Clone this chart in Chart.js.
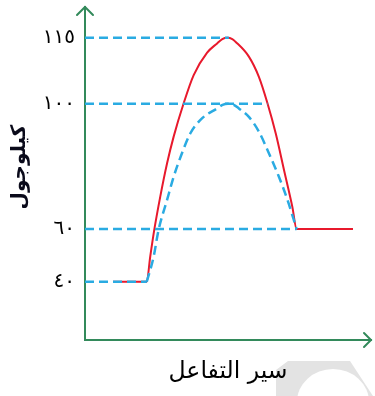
<!DOCTYPE html>
<html>
<head>
<meta charset="utf-8">
<script src="https://cdn.jsdelivr.net/npm/chart.js@4"></script>
<style>
  html, body { margin: 0; padding: 0; background: #fff; }
  #wrap { width: 375px; height: 396px; position: relative; }
</style>
</head>
<body>
<div id="wrap"><canvas id="chart"></canvas></div>
<script>
// reaction progress (0-100, arbitrary) vs energy in kJ
const withoutCatalystX = [9.8, 21.6, 22.8, 24.2, 26.3, 28.7, 31.0, 34.5, 38.0, 42.7, 46.2, 48.0, 49.8, 51.5, 52.6, 57.3, 60.8, 63.8, 66.7, 69.6, 72.5, 74.0, 93.7];
const withoutCatalystY = [40, 40, 49.5, 59.6, 70.3, 81.0, 89.5, 100.1, 106.5, 111.6, 113.7, 114.7, 115, 114.7, 114.1, 110.7, 106.1, 100.1, 90.5, 78.8, 67.1, 60, 60];

const withCatalystX = [21.6, 24.0, 25.7, 28.7, 31.0, 33.9, 36.8, 40.9, 46.2, 48.1, 50.0, 52.0, 53.8, 57.3, 60.8, 64.3, 67.8, 70.8, 74.0];
const withCatalystY = [40, 49.5, 59.6, 69.3, 76.7, 84.2, 90.5, 95.3, 98.5, 99.65, 100, 99.65, 98.5, 95.8, 91.1, 84.2, 76.7, 69.3, 60];

// dashed guide lines from the y axis to the curves
const guideLevels = [40, 60, 100, 115];
const guideEnds = [21.6, 74.0, 63.8, 50.3];

const yTicks = [40, 60, 100, 115];
const yTickLabels = ['٤٠', '٦٠', '١٠٠', '١١٥'];

const xTitle = 'سير التفاعل';
const yTitle = 'كيلوجول';

// the drawing is schematic: the energy axis is not evenly spaced
const yKnotValues = [20, 40, 60, 100, 115, 122];
const yKnotFracs = [0, 0.175, 0.333, 0.7096, 0.9078, 1];

function piece(v, from, to) {
    if (v <= from[0]) return to[0];
    for (let i = 1; i < from.length; i++) {
        if (v <= from[i]) {
            const t = (v - from[i - 1]) / (from[i] - from[i - 1]);
            return to[i - 1] + t * (to[i] - to[i - 1]);
        }
    }
    return to[to.length - 1];
}

class PiecewiseScale extends Chart.LinearScale {
    getPixelForValue(value) {
        return this.getPixelForDecimal(piece(value, yKnotValues, yKnotFracs));
    }
    getValueForPixel(pixel) {
        return piece(this.getDecimalForPixel(pixel), yKnotFracs, yKnotValues);
    }
}
PiecewiseScale.id = 'piecewise';
PiecewiseScale.defaults = Chart.LinearScale.defaults;
Chart.register(PiecewiseScale);

const GREEN = '#338a5b';
const BLUE = '#2aabe2';
const RED = '#e8192c';

const toPoints = (xs, ys) => xs.map((x, i) => ({ x: x, y: ys[i] }));

const guideSets = guideLevels.map((lvl, i) => ({
    data: [{ x: 0, y: lvl }, { x: guideEnds[i], y: lvl }],
    borderColor: BLUE,
    borderWidth: 2.5,
    borderDash: [9, 5],
    pointRadius: 0,
    order: 1
}));

const decor = {
    id: 'decor',
    beforeDraw(chart) {
        const ctx = chart.ctx;
        ctx.save();
        ctx.fillStyle = '#e3e3e3';
        ctx.beginPath();
        ctx.moveTo(276, 370);
        ctx.lineTo(288, 361);
        ctx.lineTo(350, 361);
        ctx.lineTo(373, 396);
        ctx.lineTo(276, 396);
        ctx.closePath();
        ctx.fill();
        ctx.fillStyle = '#fff';
        ctx.beginPath();
        ctx.ellipse(333, 402, 36, 33, 0, 0, Math.PI * 2);
        ctx.fill();
        ctx.restore();
    },
    afterDraw(chart) {
        const { left, right, top, bottom } = chart.chartArea;
        const ctx = chart.ctx;
        ctx.save();
        ctx.strokeStyle = GREEN;
        ctx.lineWidth = 2;
        ctx.lineCap = 'round';
        ctx.beginPath();
        ctx.moveTo(left - 8, top + 8);
        ctx.lineTo(left, top);
        ctx.lineTo(left + 8, top + 8);
        ctx.moveTo(right - 7, bottom - 7);
        ctx.lineTo(right, bottom);
        ctx.lineTo(right - 7, bottom + 7);
        ctx.stroke();

        // y axis title, a little above the middle as in the source
        ctx.translate(19.5, 167);
        ctx.rotate(-Math.PI / 2);
        ctx.fillStyle = '#0a0a1a';
        ctx.font = 'bold 20px "DejaVu Sans"';
        ctx.textAlign = 'center';
        ctx.textBaseline = 'middle';
        ctx.fillText(yTitle, 0, 0);
        ctx.restore();
    }
};

new Chart(document.getElementById('chart'), {
    type: 'line',
    data: {
        datasets: [
            {
                data: toPoints(withoutCatalystX, withoutCatalystY),
                borderColor: RED,
                borderWidth: 2,
                pointRadius: 0,
                cubicInterpolationMode: 'monotone',
                order: 2
            },
            {
                data: toPoints(withCatalystX, withCatalystY),
                borderColor: BLUE,
                borderWidth: 2.5,
                borderDash: [9, 5],
                pointRadius: 0,
                cubicInterpolationMode: 'monotone',
                order: 1
            },
            ...guideSets
        ]
    },
    options: {
        responsive: true,
        maintainAspectRatio: false,
        animation: false,
        layout: { padding: { top: 7, right: 4, left: 0, bottom: 0 } },
        plugins: {
            legend: { display: false },
            tooltip: { enabled: false }
        },
        scales: {
            x: {
                type: 'linear',
                min: 0,
                max: 100,
                grid: { display: false, drawTicks: false },
                border: { display: true, color: GREEN, width: 2 },
                ticks: { display: false },
                title: {
                    display: true,
                    text: xTitle,
                    color: '#000',
                    font: { family: 'DejaVu Sans', size: 23.5 },
                    padding: { top: 0, bottom: 10 }
                },
                afterFit: (scale) => {
                    scale.height = 56;
                    scale.paddingLeft = 0;
                    scale.paddingRight = 0;
                }
            },
            y: {
                type: 'piecewise',
                min: yKnotValues[0],
                max: yKnotValues[yKnotValues.length - 1],
                grid: { display: false, drawTicks: false },
                border: { display: true, color: GREEN, width: 2 },
                ticks: {
                    autoSkip: false,
                    padding: 10,
                    color: '#000',
                    font: { family: 'DejaVu Sans', size: 20 },
                    callback: (v) => yTickLabels[yTicks.indexOf(v)]
                },
                afterBuildTicks: (scale) => {
                    scale.ticks = yTicks.map(v => ({ value: v }));
                },
                afterFit: (scale) => {
                    scale.width = 85;
                    scale.paddingTop = 0;
                    scale.paddingBottom = 0;
                }
            }
        }
    },
    plugins: [decor]
});
</script>
</body>
</html>
